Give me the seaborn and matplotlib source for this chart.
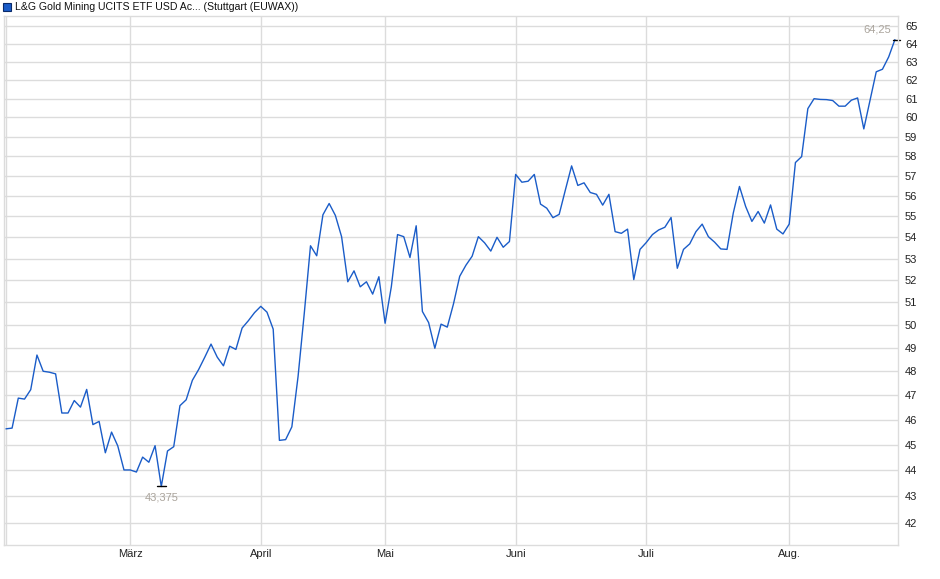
import matplotlib
matplotlib.use('Agg')
import matplotlib.pyplot as plt
from matplotlib.patches import Rectangle
from matplotlib.ticker import FixedLocator, NullLocator, FixedFormatter
import seaborn as sns
import pandas as pd

# daily closes, one per trading day (Feb 3 .. Aug 26)
prices = [
    45.63, 45.66, 46.88, 46.84, 47.23, 48.69, 48.00, 47.96, 47.89, 46.27,
    46.27, 46.78, 46.51, 47.24, 45.80, 45.93, 44.68, 45.50, 44.95, 44.01,
    44.01, 43.93, 44.51, 44.31, 44.96, 43.375, 44.75, 44.92, 46.57, 46.81,
    47.62, 48.07, 48.60, 49.16, 48.60, 48.23, 49.07, 48.93, 49.86, 50.18,
    50.54, 50.82, 50.56, 49.81, 45.17, 45.20, 45.71, 47.78, 50.51, 53.60,
    53.13, 55.08, 55.63, 55.05, 54.03, 51.93, 52.43, 51.70, 51.93, 51.37,
    52.16, 50.07, 51.70, 54.13, 54.03, 53.05, 54.55, 50.59, 50.10, 48.98,
    50.03, 49.90, 50.93, 52.18, 52.69, 53.11, 54.03, 53.74, 53.35, 54.00,
    53.53, 53.80, 57.07, 56.68, 56.73, 57.07, 55.60, 55.40, 54.94, 55.10,
    56.30, 57.50, 56.52, 56.65, 56.17, 56.08, 55.55, 56.08, 54.27, 54.19,
    54.39, 52.03, 53.43, 53.75, 54.13, 54.35, 54.48, 54.95, 52.55, 53.43,
    53.69, 54.27, 54.63, 54.03, 53.77, 53.45, 53.43, 55.16, 56.47, 55.48,
    54.76, 55.24, 54.68, 55.56, 54.39, 54.16, 54.63, 57.67, 57.97, 60.47,
    61.00, 60.96, 60.95, 60.90, 60.60, 60.60, 60.92, 61.04, 59.40, 60.92,
    62.46, 62.60, 63.28, 64.25,
]
# trading-day index of the first day of each month
month_pos = [0, 20, 41, 61, 82, 103, 126]
month_labels = ['', 'März', 'April', 'Mai', 'Juni', 'Juli', 'Aug.']
y_ticks = list(range(42, 66))
title = 'L&G Gold Mining UCITS ETF USD Ac... (Stuttgart (EUWAX))'

df = pd.DataFrame({'day': range(len(prices)), 'price': prices})

sns.set_style('white')
plt.rcParams['font.family'] = ['Liberation Sans', 'DejaVu Sans']

W, H = 940, 579
fig = plt.figure(figsize=(W / 100, H / 100), dpi=100)
ax = fig.add_axes([4 / W, 1 - 545 / H, (898 - 4) / W, (545 - 16) / H])

grid_c = '#dcdcdc'
line_c = '#1a5cc8'
note_c = '#aaa49c'

sns.lineplot(data=df, x='day', y='price', ax=ax, color=line_c, linewidth=1.0)

ax.set_yscale('log')
ax.set_ylim(41.2, 65.6)
ax.set_xlim(-0.3, 143.5)

ax.yaxis.set_major_locator(FixedLocator(y_ticks))
ax.yaxis.set_major_formatter(FixedFormatter([str(t) for t in y_ticks]))
ax.yaxis.set_minor_locator(NullLocator())
ax.yaxis.tick_right()
ax.tick_params(axis='y', length=0, pad=5, labelsize=8, labelcolor='#222222')

ax.xaxis.set_major_locator(FixedLocator(month_pos))
ax.xaxis.set_major_formatter(FixedFormatter(month_labels))
ax.tick_params(axis='x', length=0, pad=3, labelsize=8, labelcolor='#222222')

ax.grid(True, color=grid_c, linewidth=1.0)
ax.set_axisbelow(True)
ax.set_xlabel('')
ax.set_ylabel('')
for s in ax.spines.values():
    s.set_color(grid_c)
    s.set_linewidth(1.0)

# high / low markers
i_max = prices.index(max(prices))
i_min = prices.index(min(prices))
ax.plot([i_max - 0.3, i_max + 0.9], [prices[i_max]] * 2, color='black', lw=1, clip_on=False)
ax.plot([i_min - 0.7, i_min + 0.7], [prices[i_min]] * 2, color='black', lw=1)
ax.annotate('64,25', (i_max, prices[i_max]), xytext=(-3, 4), textcoords='offset points',
            ha='right', va='bottom', fontsize=8, color=note_c)
ax.annotate('43,375', (i_min, prices[i_min]), xytext=(0, -4.5), textcoords='offset points',
            ha='center', va='top', fontsize=8, color=note_c)

# header legend
fig.patches.append(Rectangle((3 / W, 1 - 11 / H), 8 / W, 8 / H, transform=fig.transFigure,
                             facecolor='#1a5cc8', edgecolor='#0a2a6a', linewidth=0.8))
fig.text(15 / W, 1 - 7 / H, title, ha='left', va='center', fontsize=7.6, color='#111111')

fig.savefig('out.png', dpi=100)
